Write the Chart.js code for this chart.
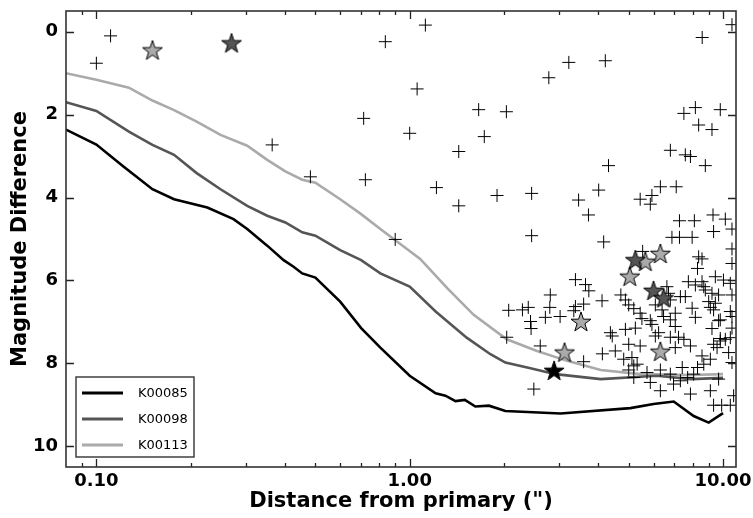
<!DOCTYPE html>
<html>
<head>
<meta charset="utf-8">
<script src="https://cdn.jsdelivr.net/npm/chart.js@4.4.1/dist/chart.umd.min.js"></script>
<style>
  body { margin: 0; background: #fff; }
  #wrap { width: 753px; height: 518px; }
</style>
</head>
<body>
<div id="wrap"><canvas id="cc" width="753" height="518"></canvas></div>
<script>
// contrast curves (separation in arcsec, delta mag)
var sep85 = [0.08, 0.1, 0.122, 0.151, 0.177, 0.226, 0.274, 0.303, 0.351, 0.396, 0.426, 0.454, 0.50, 0.60, 0.70, 0.806, 1.0, 1.21, 1.30, 1.40, 1.50, 1.62, 1.79, 2.02, 3.03, 5.06, 6.0, 6.96, 8.06, 9.0, 10.0];
var dm85  = [2.36, 2.72, 3.25, 3.80, 4.04, 4.24, 4.52, 4.76, 5.16, 5.51, 5.67, 5.83, 5.93, 6.51, 7.15, 7.62, 8.30, 8.72, 8.78, 8.91, 8.88, 9.04, 9.02, 9.15, 9.21, 9.08, 8.98, 8.92, 9.27, 9.43, 9.20];

var sep98 = [0.08, 0.1, 0.127, 0.151, 0.177, 0.209, 0.249, 0.303, 0.351, 0.401, 0.454, 0.50, 0.60, 0.70, 0.806, 1.0, 1.21, 1.52, 1.81, 2.02, 2.43, 2.92, 4.07, 6.16, 7.9, 10.0];
var dm98  = [1.70, 1.91, 2.41, 2.73, 2.97, 3.41, 3.80, 4.20, 4.44, 4.60, 4.84, 4.92, 5.27, 5.51, 5.83, 6.15, 6.75, 7.38, 7.78, 7.98, 8.12, 8.26, 8.38, 8.30, 8.38, 8.35];

var sep113 = [0.08, 0.1, 0.127, 0.151, 0.177, 0.209, 0.249, 0.303, 0.351, 0.401, 0.454, 0.50, 0.60, 0.70, 0.806, 0.98, 1.08, 1.32, 1.60, 2.04, 2.55, 3.18, 4.07, 5.45, 7.9, 10.0];
var dm113  = [1.00, 1.16, 1.35, 1.66, 1.89, 2.17, 2.49, 2.75, 3.09, 3.37, 3.57, 3.64, 4.04, 4.40, 4.76, 5.24, 5.48, 6.19, 6.83, 7.42, 7.70, 7.94, 8.16, 8.26, 8.28, 8.26];

// detected companions around the KOIs
var starSep85 = [2.89];
var starDm85  = [8.18];
var starSep98 = [0.27, 5.25, 6.00, 6.46];
var starDm98  = [0.28, 5.51, 6.25, 6.43];
var starSep113 = [0.151, 3.12, 3.52, 5.04, 5.65, 6.31, 6.31];
var starDm113  = [0.45, 7.74, 7.00, 5.91, 5.55, 5.36, 7.72];

// other sources (crosses)
var crossSep = [
  0.111, 0.100, 0.713, 0.364, 0.482, 0.722, 0.836, 1.122, 1.056, 3.22,
  4.21, 2.78, 1.66, 2.035, 1.00, 1.73, 1.434, 4.31, 8.58, 7.50,
  8.16, 9.80, 8.36, 9.22, 6.79, 7.58, 7.87, 8.78, 1.217, 1.434,
  1.90, 2.45, 3.46, 4.01, 3.72, 5.44, 5.93, 5.86, 6.31, 7.09,
  7.26, 8.10, 9.29, 10.17, 9.33, 10.68, 6.87, 7.26, 7.97, 2.45,
  4.16, 0.899, 10.68, 5.54, 8.36, 8.57, 10.68, 10.68, 8.29,
  3.38, 3.64, 3.73, 2.81, 4.11, 3.59, 3.38, 2.80, 2.39, 2.29,
  2.07, 3.34, 3.02, 2.71, 2.43, 2.44, 2.04, 2.61, 3.59, 4.12,
  2.49, 4.72, 4.88, 5.00, 5.19, 5.44, 5.51, 5.86, 5.93, 6.08,
  6.62, 6.70, 6.79, 6.39, 6.46, 6.79, 4.37, 4.88, 5.25, 6.23,
  6.79, 7.04, 4.43, 5.00, 5.44, 4.53, 4.82, 5.12, 5.19, 5.32,
  5.00, 5.19, 5.72, 6.31, 6.79, 5.86, 6.31, 6.95, 6.08, 7.04,
  7.75, 8.16, 8.57, 8.68, 9.45, 10.03, 10.55, 8.78, 7.31, 7.58,
  9.22, 9.68, 10.68, 9.00, 9.45, 7.97, 9.11, 9.33, 7.04, 10.55,
  8.16, 9.68, 9.80, 10.68, 9.22, 10.68, 7.21, 9.80, 10.55, 7.50,
  7.87, 9.33, 9.80, 10.17, 9.57, 10.42, 8.57, 9.11, 8.68, 8.29,
  10.68, 7.41, 7.71, 7.31, 8.06, 9.68, 9.11, 7.87, 10.81, 9.33,
  9.90, 10.55
];
var crossDm = [
  0.10, 0.76, 2.09, 2.73, 3.50, 3.57, 0.24, -0.16, 1.38, 0.74,
  0.70, 1.11, 1.88, 1.93, 2.45, 2.53, 2.89, 3.23, 0.14, 1.97,
  1.83, 1.88, 2.25, 2.36, 2.86, 2.97, 3.01, 3.23, 3.76, 4.20,
  3.95, 3.90, 4.06, 3.82, 4.42, 4.04, 3.95, 4.16, 3.74, 3.74,
  4.56, 4.56, 4.42, 4.52, 4.82, 4.76, 4.96, 4.96, 4.96, 4.92,
  5.07, 5.01, -0.17, 5.30, 5.43, 5.48, 5.24, 5.59, 5.71,
  5.98, 6.10, 6.25, 6.35, 6.49, 6.57, 6.63, 6.65, 6.65, 6.71,
  6.72, 6.73, 6.87, 6.89, 6.99, 7.16, 7.37, 7.58, 7.96, 7.77,
  8.62, 6.35, 6.47, 6.59, 6.68, 6.79, 6.92, 6.97, 7.06, 6.59,
  6.15, 6.31, 6.47, 6.71, 6.87, 6.95, 7.26, 7.18, 7.15, 7.26,
  7.37, 7.11, 7.34, 7.54, 7.58, 7.70, 7.90, 7.86, 8.06, 8.02,
  8.16, 8.34, 8.22, 8.16, 8.26, 8.46, 8.66, 8.50, 7.34, 7.62,
  6.03, 6.11, 6.03, 6.15, 5.91, 5.99, 6.07, 6.23, 6.39, 6.39,
  6.31, 6.35, 6.35, 6.51, 6.55, 6.67, 6.65, 6.71, 6.79, 6.75,
  6.89, 6.97, 6.95, 6.87, 7.16, 7.15, 7.37, 7.40, 7.38, 7.42,
  7.58, 7.54, 7.46, 7.42, 7.62, 7.74, 7.82, 7.90, 8.02, 8.10,
  7.98, 8.10, 8.34, 8.42, 8.26, 8.38, 8.66, 8.74, 8.78, 9.01,
  9.01, 9.01
];

var xTicks = [0.1, 1, 10];
var xMinor = [0.09, 0.2, 0.3, 0.4, 0.5, 0.6, 0.7, 0.8, 0.9, 2, 3, 4, 5, 6, 7, 8, 9];
var yTicks = [0, 2, 4, 6, 8, 10];
var koiNames = ['K00085', 'K00098', 'K00113'];
var koiColors = ['#000000', '#555555', '#aaaaaa'];

function pts(xs, ys) {
  return xs.map(function (v, i) { return { x: v, y: ys[i] }; });
}

function starImg(fill) {
  var c = document.createElement('canvas');
  c.width = 24; c.height = 24;
  var g = c.getContext('2d');
  g.beginPath();
  for (var i = 0; i < 10; i++) {
    var r = i % 2 ? 4.1 : 10.5;
    var a = -Math.PI / 2 + i * Math.PI / 5;
    g.lineTo(12 + r * Math.cos(a), 12.5 + r * Math.sin(a));
  }
  g.closePath();
  g.fillStyle = fill;
  g.fill();
  g.strokeStyle = '#000';
  g.lineWidth = 1;
  g.stroke();
  return c;
}

function curve(label, xs, ys, col) {
  return { label: label, data: pts(xs, ys), showLine: true, borderColor: col,
    borderWidth: 2.6, pointRadius: 0, fill: false, tension: 0, order: 3 };
}
function stars(xs, ys, col) {
  return { label: 'stars', data: pts(xs, ys), showLine: false,
    pointStyle: starImg(col), pointRadius: 10, order: 1 };
}

// inward tick marks + frame + legend
var frame = {
  id: 'frame',
  afterDraw: function (chart) {
    var ctx = chart.ctx, a = chart.chartArea;
    var xs = chart.scales.x, ys = chart.scales.y;
    ctx.save();
    ctx.strokeStyle = '#222';
    ctx.lineWidth = 1.3;
    ctx.beginPath();
    xTicks.concat(xMinor).forEach(function (v) {
      var px = Math.round(xs.getPixelForValue(v)) + 0.5;
      var len = xTicks.indexOf(v) >= 0 ? 8 : 4;
      ctx.moveTo(px, a.bottom); ctx.lineTo(px, a.bottom - len);
      ctx.moveTo(px, a.top); ctx.lineTo(px, a.top + len);
    });
    yTicks.forEach(function (v) {
      var py = Math.round(ys.getPixelForValue(v)) + 0.5;
      ctx.moveTo(a.left, py); ctx.lineTo(a.left + 8, py);
      ctx.moveTo(a.right, py); ctx.lineTo(a.right - 8, py);
    });
    ctx.stroke();
    ctx.lineWidth = 1.6;
    ctx.strokeStyle = '#333';
    ctx.strokeRect(a.left, a.top, a.right - a.left, a.bottom - a.top);

    var lx = a.left + 10, ly = a.bottom - 90, lw = 118, lh = 80;
    ctx.fillStyle = '#fff';
    ctx.fillRect(lx, ly, lw, lh);
    ctx.lineWidth = 1.4;
    ctx.strokeRect(lx, ly, lw, lh);
    ctx.font = '13px "DejaVu Sans"';
    ctx.textBaseline = 'middle';
    ctx.textAlign = 'left';
    koiNames.forEach(function (n, i) {
      var yy = ly + 16 + i * 26;
      ctx.strokeStyle = koiColors[i];
      ctx.lineWidth = 2.8;
      ctx.beginPath(); ctx.moveTo(lx + 6, yy); ctx.lineTo(lx + 47, yy); ctx.stroke();
      ctx.fillStyle = '#000';
      ctx.fillText(n, lx + 62, yy + 1);
    });
    ctx.restore();
  }
};

var tickFont = { family: 'DejaVu Sans', size: 18, weight: 'bold' };
var titleFont = { family: 'DejaVu Sans', size: 21, weight: 'bold' };

new Chart(document.getElementById('cc').getContext('2d'), {
  type: 'scatter',
  data: {
    datasets: [
      curve(koiNames[0], sep85, dm85, koiColors[0]),
      curve(koiNames[1], sep98, dm98, koiColors[1]),
      curve(koiNames[2], sep113, dm113, koiColors[2]),
      { label: 'others', data: pts(crossSep, crossDm), pointStyle: 'cross',
        pointRadius: 6.5, borderColor: '#000', borderWidth: 1, order: 2 },
      stars(starSep85, starDm85, koiColors[0]),
      stars(starSep98, starDm98, koiColors[1]),
      stars(starSep113, starDm113, koiColors[2])
    ]
  },
  options: {
    responsive: false,
    animation: false,
    layout: { padding: { top: 6, right: 17, left: 0, bottom: 0 } },
    plugins: { legend: { display: false }, tooltip: { enabled: false } },
    scales: {
      x: {
        type: 'logarithmic', min: 0.08, max: 11,
        afterBuildTicks: function (s) { s.ticks = xTicks.map(function (v) { return { value: v }; }); },
        afterFit: function (s) { s.height = 51; s.paddingLeft = 0; s.paddingRight = 0; },
        grid: { display: false, drawTicks: false },
        border: { display: false },
        ticks: { font: tickFont, color: '#000', padding: 4, maxRotation: 0,
          callback: function (v) { return Number(v).toFixed(2); } },
        title: { display: true, text: 'Distance from primary (")', font: titleFont,
          color: '#000', padding: { top: 0, bottom: 4 } }
      },
      y: {
        reverse: true, min: -0.5, max: 10.5,
        afterBuildTicks: function (s) { s.ticks = yTicks.map(function (v) { return { value: v }; }); },
        afterFit: function (s) { s.width = 66; s.paddingTop = 0; s.paddingBottom = 0; },
        grid: { display: false, drawTicks: false },
        border: { display: false },
        ticks: { font: tickFont, color: '#000', padding: 8 },
        title: { display: true, text: 'Magnitude Difference', font: titleFont,
          color: '#000', padding: { top: 8, bottom: 0 } }
      }
    }
  },
  plugins: [frame]
});
</script>
</body>
</html>
